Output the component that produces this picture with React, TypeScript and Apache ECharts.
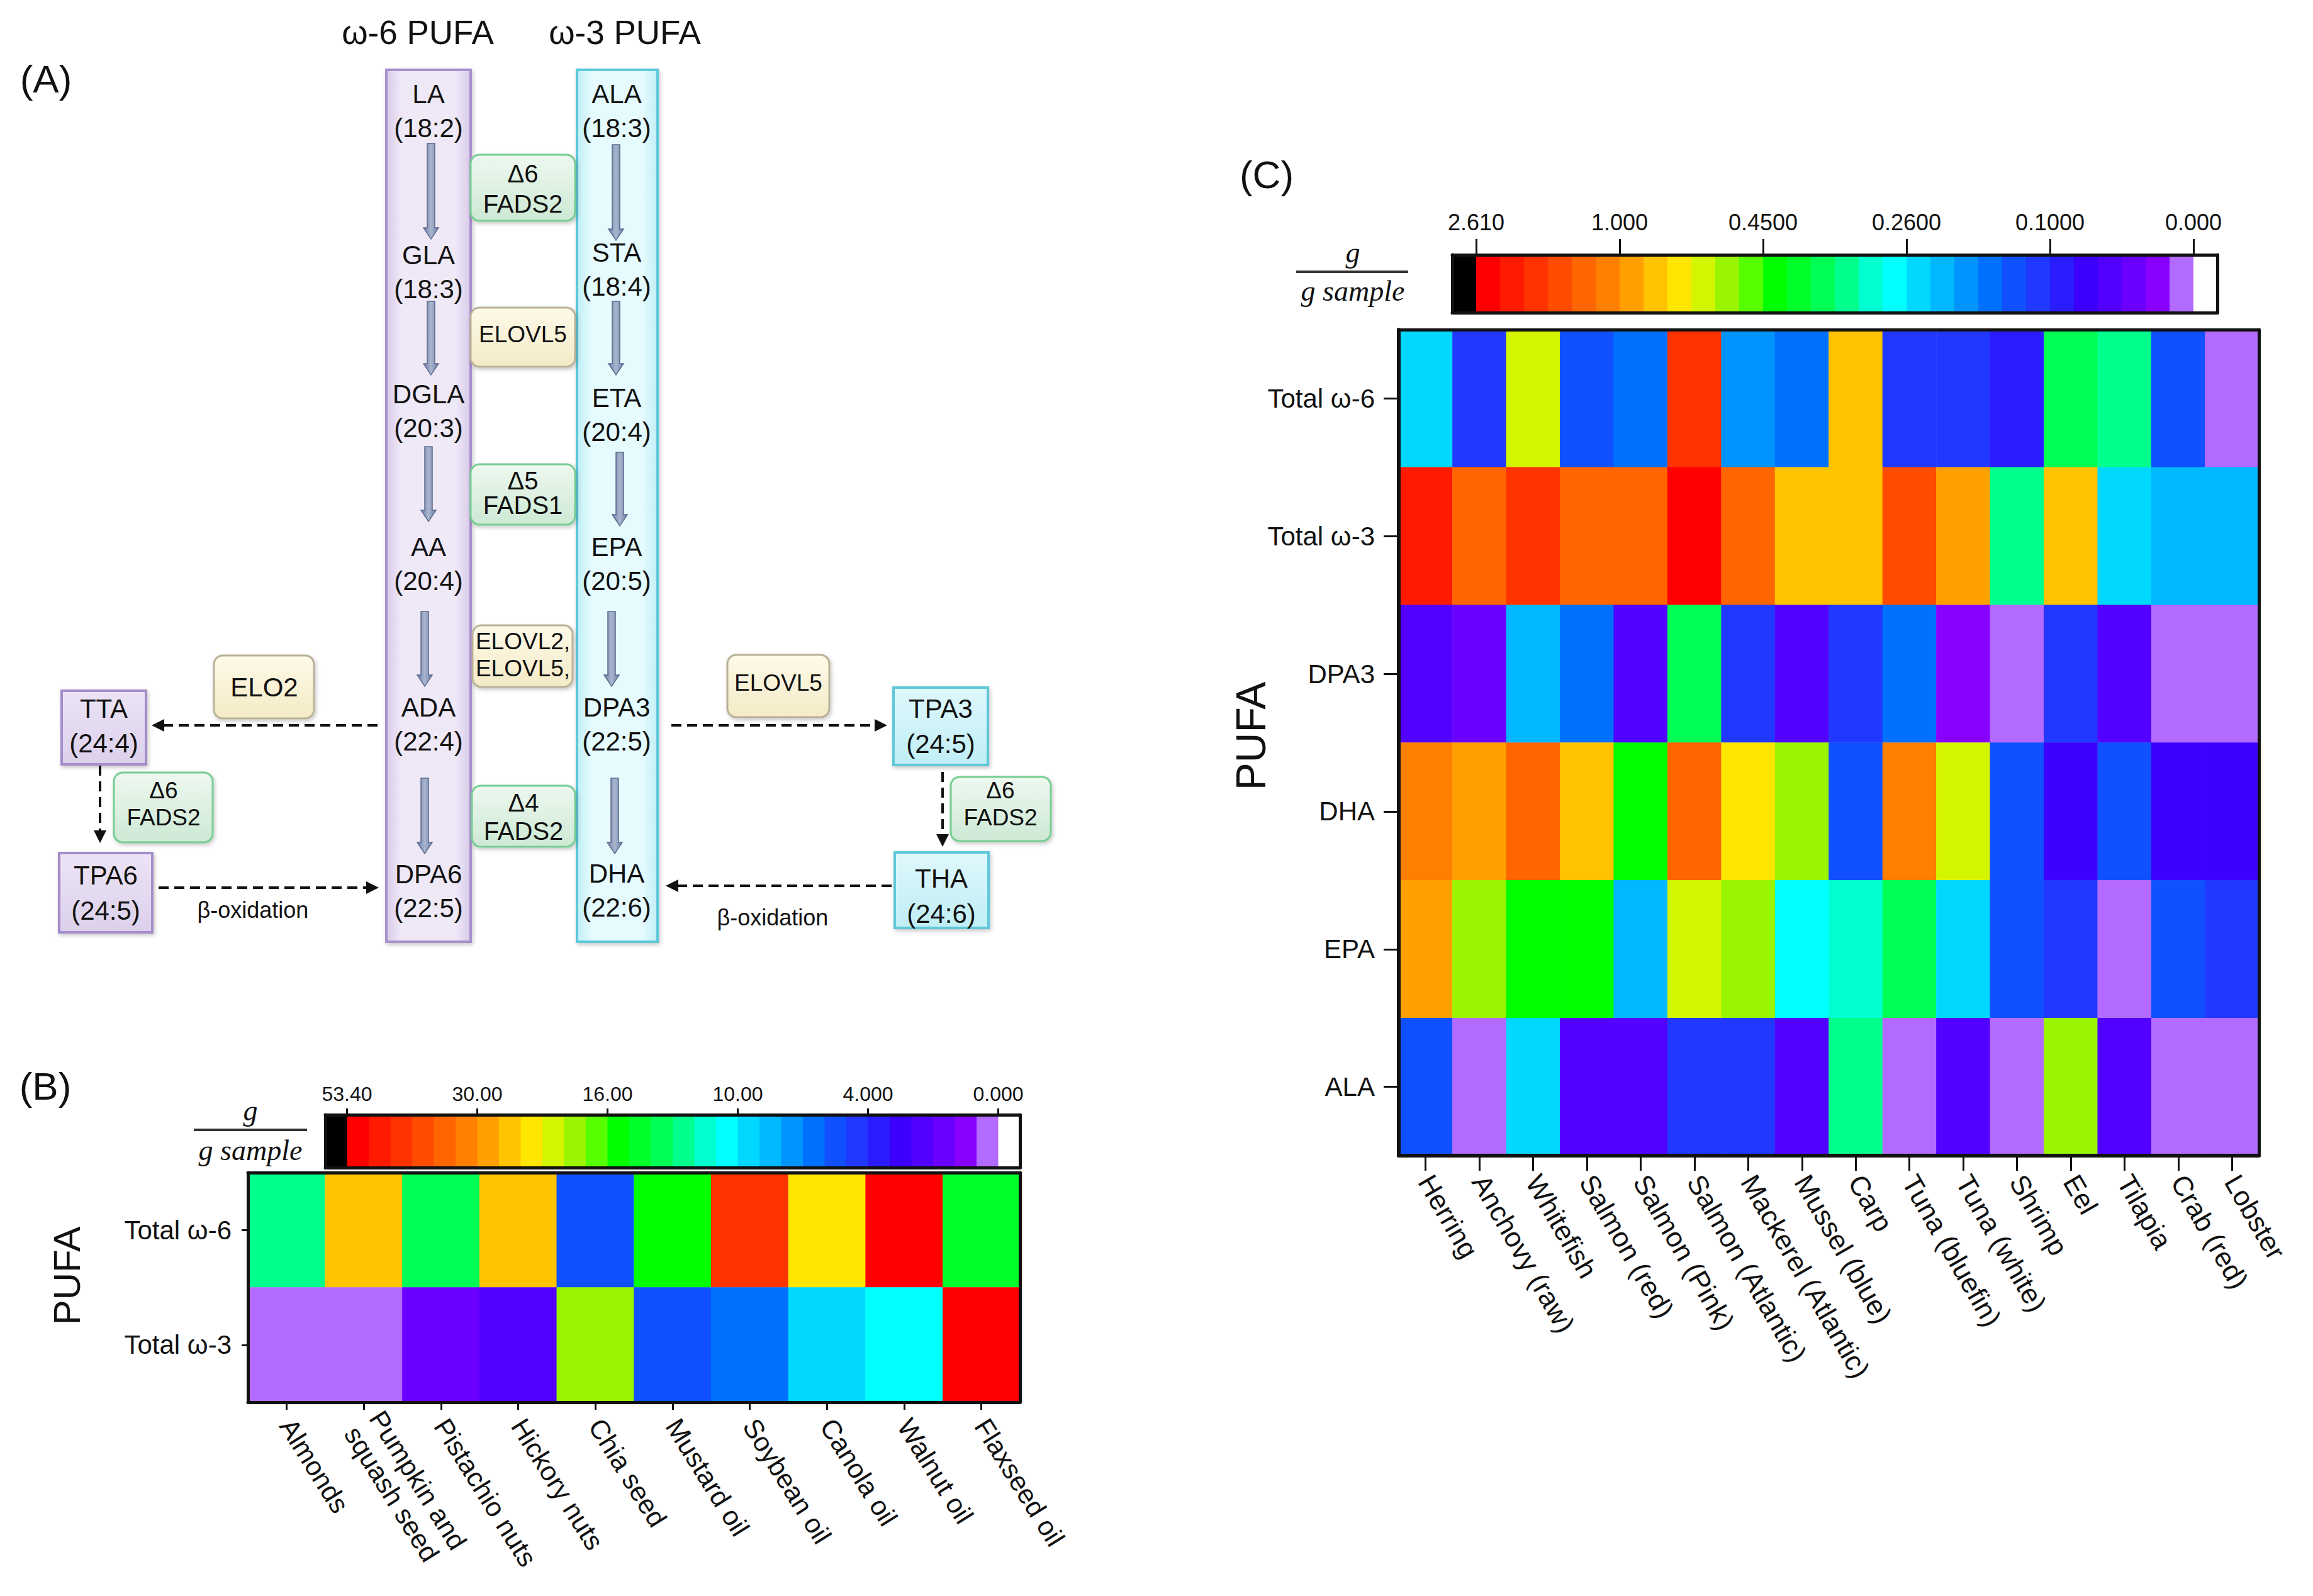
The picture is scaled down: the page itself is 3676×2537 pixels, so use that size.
import React, { useEffect, useRef } from 'react';
import * as echarts from 'echarts';

const W = 3676;
const H = 2537;
const SANS = '"Liberation Sans", Arial, Helvetica, sans-serif';
const SERIF = '"Liberation Serif", "Times New Roman", serif';

// 30-step colour scale (highest -> lowest) and out-of-range ends
const PALETTE = ['#ff0000', '#ff1a00', '#ff3300', '#ff4c00', '#ff6600', '#ff8000', '#ffa000', '#ffc300', '#ffe600', '#d4f500',
  '#99f500', '#55ff00', '#00ff00', '#00ff2a', '#00ff55', '#00ff8c', '#00ffd0', '#00ffff', '#00d8ff', '#00b8ff',
  '#0094ff', '#0070ff', '#1050ff', '#2038ff', '#2a1cff', '#3c00ff', '#5200ff', '#6a00ff', '#8800ff', '#b36bff'];
const OVER_COLOR = '#000000';
const ZERO_COLOR = '#ffffff';

// colour-bar tick values and labels
const SCALE_B_TICKS = [53.4, 30, 16, 10, 4, 0];
const SCALE_B_LABELS = ['53.40', '30.00', '16.00', '10.00', '4.000', '0.000'];
const SCALE_C_TICKS = [2.61, 1, 0.45, 0.26, 0.1, 0];
const SCALE_C_LABELS = ['2.610', '1.000', '0.4500', '0.2600', '0.1000', '0.000'];

// (B) plant sources, g / g sample
const PLANT_FOODS = ['Almonds', 'Pumpkin and\nsquash seed', 'Pistachio nuts', 'Hickory nuts', 'Chia seed', 'Mustard oil', 'Soybean oil', 'Canola oil', 'Walnut oil', 'Flaxseed oil'];
const PLANT_ROWS = ['Total ω-6', 'Total ω-3'];
const PLANT_OMEGA6 = [12.4, 26.6, 13.6, 26.2, 5.8, 15.3, 43.6, 24.1, 51.2, 14.3];
const PLANT_OMEGA3 = [0.006, 0.12, 1.6, 2.2, 19.3, 5.9, 6.8, 9.1, 10.4, 53.3];

// (C) seafood sources, g / g sample
const SEAFOODS = ['Herring', 'Anchovy (raw)', 'Whitefish', 'Salmon (red)', 'Salmon (Pink)', 'Salmon (Atlantic)', 'Mackerel (Atlantic)', 'Mussel (blue)', 'Carp', 'Tuna (bluefin)', 'Tuna (white)', 'Shrimp', 'Eel', 'Tilapia', 'Crab (red)', 'Lobster'];
const SEAFOOD_ROWS = ['Total ω-6', 'Total ω-3', 'DPA3', 'DHA', 'EPA', 'ALA'];
const SEA_OMEGA6 = [0.25, 0.114, 0.68, 0.142, 0.166, 1.96, 0.194, 0.168, 0.87, 0.112, 0.116, 0.091, 0.372, 0.338, 0.145, 0.009];
const SEA_OMEGA3 = [2.2, 1.41, 1.95, 1.39, 1.38, 2.52, 1.44, 0.86, 0.88, 1.68, 0.95, 0.335, 0.84, 0.248, 0.22, 0.215];
const SEA_DPA3 = [0.058, 0.043, 0.22, 0.166, 0.056, 0.37, 0.112, 0.06, 0.114, 0.168, 0.026, 0.005, 0.113, 0.057, 0.004, 0.003];
const SEA_DHA = [1.14, 0.95, 1.42, 0.87, 0.435, 1.45, 0.78, 0.59, 0.14, 1.12, 0.69, 0.135, 0.074, 0.142, 0.076, 0.072];
const SEA_EPA = [0.96, 0.6, 0.435, 0.44, 0.215, 0.68, 0.59, 0.275, 0.305, 0.37, 0.245, 0.135, 0.11, 0.006, 0.14, 0.108];
const SEA_ALA = [0.138, 0.012, 0.25, 0.06, 0.058, 0.107, 0.112, 0.062, 0.34, 0.008, 0.055, 0.01, 0.6, 0.057, 0.009, 0.007];

// ---------- helpers ----------
function boundaries(ticks: number[]) {
  const b: number[] = [];
  for (let p = 0; p <= 30; p++) {
    const i = Math.min(Math.floor(p / 6), ticks.length - 2);
    const f = (p - i * 6) / 6;
    b.push(ticks[i] + (ticks[i + 1] - ticks[i]) * f);
  }
  return b;
}
function buildPieces(ticks: number[]) {
  const b = boundaries(ticks);
  const pieces: any[] = [{ gt: b[0], color: OVER_COLOR }];
  for (let k = 0; k < 30; k++) pieces.push({ gt: b[k + 1], lte: b[k], color: PALETTE[k] });
  pieces.push({ lte: 0, color: ZERO_COLOR });
  return pieces;
}
function heatData(rows: number[][]) {
  const d: number[][] = [];
  rows.forEach((vals, r) => vals.forEach((v, c) => d.push([c, r, v])));
  return d;
}
const CB_COLORS = [OVER_COLOR, ...PALETTE, ZERO_COLOR];
const CB_TICK_POS = [1, 7, 13, 19, 25, 31];

const LINE = (w: number) => ({ show: true, onZero: false, lineStyle: { color: '#111', width: w } });
const NONE = { show: false };

function frameX(grid: number, pos: string, type: string, data?: string[]) {
  const a: any = { type, gridIndex: grid, position: pos, z: 6, axisLine: LINE(5), axisTick: NONE, axisLabel: NONE, splitLine: NONE };
  if (type === 'category') a.data = data; else { a.min = 0; a.max = 32; }
  return a;
}
function frameY(grid: number, pos: string, type: string, data?: string[]) {
  const a: any = { type, gridIndex: grid, position: pos, z: 6, axisLine: LINE(5), axisTick: NONE, axisLabel: NONE, splitLine: NONE };
  if (type === 'category') { a.data = data; a.inverse = true; } else { a.min = 0; a.max = 1; }
  return a;
}
function colorbarTop(grid: number, labels: string[], fontSize: number, tickLen: number, margin: number) {
  return {
    type: 'value', gridIndex: grid, position: 'top', min: 0, max: 32, z: 6,
    axisLine: LINE(5),
    axisTick: { show: true, length: tickLen, customValues: CB_TICK_POS, lineStyle: { color: '#111', width: 3 } },
    axisLabel: {
      show: true, customValues: CB_TICK_POS, margin, fontSize, fontFamily: SANS, color: '#111',
      formatter: (v: number) => labels[Math.round((v - 1) / 6)],
    },
    splitLine: NONE,
  };
}
function colorbarSeries(axisIndex: number) {
  return {
    type: 'custom', xAxisIndex: axisIndex, yAxisIndex: axisIndex, silent: true,
    data: CB_COLORS.map((_, i) => [i, 0]),
    renderItem: (params: any, api: any) => {
      const i = api.value(0);
      const p0 = api.coord([i, 0]);
      const p1 = api.coord([i + 1, 1]);
      return { type: 'rect', shape: { x: p0[0], y: p1[1], width: p1[0] - p0[0] + 0.6, height: p0[1] - p1[1] }, style: { fill: CB_COLORS[params.dataIndex] } };
    },
  };
}

// ---------- panel A diagram ----------
const OM6_FILL = () => new echarts.graphic.LinearGradient(0, 0, 1, 0, [
  { offset: 0, color: '#d8cbe9' }, { offset: 0.18, color: '#efe9f7' }, { offset: 0.82, color: '#efe9f7' }, { offset: 1, color: '#d8cbe9' }]);
const OM3_FILL = () => new echarts.graphic.LinearGradient(0, 0, 1, 0, [
  { offset: 0, color: '#bfeff6' }, { offset: 0.18, color: '#e5fbfe' }, { offset: 0.82, color: '#e5fbfe' }, { offset: 1, color: '#bfeff6' }]);
const GREEN_FILL = () => new echarts.graphic.LinearGradient(0, 0, 0, 1, [
  { offset: 0, color: '#eef8f0' }, { offset: 1, color: '#cde9d4' }]);
const YELLOW_FILL = () => new echarts.graphic.LinearGradient(0, 0, 0, 1, [
  { offset: 0, color: '#fefae9' }, { offset: 1, color: '#f4eac6' }]);
const PURPLE_BOX = () => new echarts.graphic.LinearGradient(0, 0, 0, 1, [
  { offset: 0, color: '#ece4f5' }, { offset: 1, color: '#dcd0ec' }]);
const CYAN_BOX = () => new echarts.graphic.LinearGradient(0, 0, 0, 1, [
  { offset: 0, color: '#dff8fc' }, { offset: 1, color: '#bfeef5' }]);
const ARROW_FILL = () => new echarts.graphic.LinearGradient(0, 0, 1, 0, [
  { offset: 0, color: '#6c7ca0' }, { offset: 0.5, color: '#aab6d0' }, { offset: 1, color: '#6c7ca0' }]);

function rectEl(x: number, y: number, w: number, h: number, fill: any, stroke: string, r = 0, lw = 3, shadow = true) {
  return {
    type: 'rect', silent: true, shape: { x, y, width: w, height: h, r },
    style: Object.assign({ fill, stroke, lineWidth: lw }, shadow ? { shadowBlur: 6, shadowColor: 'rgba(0,0,0,0.22)', shadowOffsetX: 2, shadowOffsetY: 3 } : {}),
  };
}
function textEl(x: number, y: number, text: string, size: number, o: any = {}) {
  return {
    type: 'text', silent: true, x, y, rotation: o.rotation || 0,
    style: { text, fontSize: size, fontFamily: o.family || SANS, fontStyle: o.italic ? 'italic' : 'normal', fill: o.color || '#111', align: o.align || 'center', verticalAlign: 'middle' },
  };
}
function solidArrow(x: number, y1: number, y2: number) {
  const hw = 6, hh = 12, hl = 18;
  return {
    type: 'polygon', silent: true,
    shape: { points: [[x - hw, y1], [x + hw, y1], [x + hw, y2 - hl], [x + hh, y2 - hl], [x, y2], [x - hh, y2 - hl], [x - hw, y2 - hl]] },
    style: { fill: ARROW_FILL(), stroke: '#5b6a8e', lineWidth: 1.5 },
  };
}
function dashedArrow(x1: number, y1: number, x2: number, y2: number) {
  const len = Math.hypot(x2 - x1, y2 - y1);
  const ux = (x2 - x1) / len, uy = (y2 - y1) / len;
  const hl = 20, hw = 10;
  const bx = x2 - ux * hl, by = y2 - uy * hl;
  return [
    { type: 'line', silent: true, shape: { x1, y1, x2: bx, y2: by }, style: { stroke: '#111', lineWidth: 4, lineDash: [16, 9] } },
    { type: 'polygon', silent: true, shape: { points: [[x2, y2], [bx - uy * hw, by + ux * hw], [bx + uy * hw, by - ux * hw]] }, style: { fill: '#111' } },
  ];
}

function panelA(): any[] {
  const els: any[] = [];
  const F = 42;
  els.push(textEl(73, 125, '(A)', 62));
  els.push(textEl(664, 51, 'ω-6 PUFA', 53));
  els.push(textEl(993, 51, 'ω-3 PUFA', 53));
  // pathway columns
  els.push(rectEl(614, 111, 134, 1386, OM6_FILL(), '#a990cd', 0, 4));
  els.push(rectEl(917, 111, 128, 1386, OM3_FILL(), '#5cc9da', 0, 4));
  const om6 = [['LA', '(18:2)', 149], ['GLA', '(18:3)', 405], ['DGLA', '(20:3)', 626], ['AA', '(20:4)', 869], ['ADA', '(22:4)', 1124], ['DPA6', '(22:5)', 1389]];
  const om3 = [['ALA', '(18:3)', 149], ['STA', '(18:4)', 401], ['ETA', '(20:4)', 632], ['EPA', '(20:5)', 869], ['DPA3', '(22:5)', 1124], ['DHA', '(22:6)', 1388]];
  om6.forEach(([a, b, y]) => { els.push(textEl(681, y as number, a as string, F)); els.push(textEl(681, (y as number) + 54, b as string, F)); });
  om3.forEach(([a, b, y]) => { els.push(textEl(980, y as number, a as string, F)); els.push(textEl(980, (y as number) + 54, b as string, F)); });
  // solid arrows
  [[685, 228, 380], [685, 479, 596], [681, 710, 829], [675, 972, 1091], [675, 1237, 1357]].forEach(([x, a, b]) => els.push(solidArrow(x, a, b)));
  [[979, 230, 382], [979, 479, 596], [985, 719, 836], [972, 972, 1091], [977, 1237, 1357]].forEach(([x, a, b]) => els.push(solidArrow(x, a, b)));
  // enzyme boxes between columns
  const G = '#77cd93', Y = '#b9b198';
  els.push(rectEl(748, 246, 166, 105, GREEN_FILL(), G, 14));
  els.push(textEl(831, 276, 'Δ6', 40)); els.push(textEl(831, 324, 'FADS2', 40));
  els.push(rectEl(748, 489, 166, 94, YELLOW_FILL(), Y, 14));
  els.push(textEl(831, 531, 'ELOVL5', 37));
  els.push(rectEl(748, 738, 166, 96, GREEN_FILL(), G, 14));
  els.push(textEl(831, 764, 'Δ5', 40)); els.push(textEl(831, 803, 'FADS1', 40));
  els.push(rectEl(751, 994, 159, 98, YELLOW_FILL(), Y, 14));
  els.push(textEl(831, 1019, 'ELOVL2,', 37)); els.push(textEl(831, 1062, 'ELOVL5,', 37));
  els.push(rectEl(750, 1249, 164, 97, GREEN_FILL(), G, 14));
  els.push(textEl(832, 1276, 'Δ4', 40)); els.push(textEl(832, 1321, 'FADS2', 40));
  // left branch
  els.push(rectEl(340, 1042, 159, 100, YELLOW_FILL(), Y, 14));
  els.push(textEl(420, 1092, 'ELO2', 42));
  els.push(rectEl(98, 1098, 134, 117, PURPLE_BOX(), '#a58dcb', 0, 4));
  els.push(textEl(165, 1126, 'TTA', F)); els.push(textEl(165, 1181, '(24:4)', F));
  els.push(rectEl(181, 1228, 157, 111, GREEN_FILL(), G, 14));
  els.push(textEl(260, 1256, 'Δ6', 37)); els.push(textEl(260, 1299, 'FADS2', 37));
  els.push(rectEl(94, 1356, 148, 126, PURPLE_BOX(), '#a58dcb', 0, 4));
  els.push(textEl(168, 1391, 'TPA6', F)); els.push(textEl(168, 1447, '(24:5)', F));
  els.push(...dashedArrow(600, 1153, 241, 1153));
  els.push(...dashedArrow(159, 1217, 159, 1340));
  els.push(...dashedArrow(252, 1411, 602, 1411));
  els.push(textEl(402, 1446, 'β-oxidation', 36));
  // right branch
  els.push(rectEl(1156, 1041, 162, 99, YELLOW_FILL(), Y, 14));
  els.push(textEl(1237, 1085, 'ELOVL5', 37));
  els.push(rectEl(1420, 1093, 150, 123, CYAN_BOX(), '#5ec8d8', 0, 4));
  els.push(textEl(1495, 1126, 'TPA3', F)); els.push(textEl(1495, 1182, '(24:5)', F));
  els.push(rectEl(1511, 1235, 159, 102, GREEN_FILL(), G, 14));
  els.push(textEl(1590, 1256, 'Δ6', 37)); els.push(textEl(1590, 1299, 'FADS2', 37));
  els.push(rectEl(1422, 1355, 149, 120, CYAN_BOX(), '#5ec8d8', 0, 4));
  els.push(textEl(1496, 1396, 'THA', F)); els.push(textEl(1496, 1452, '(24:6)', F));
  els.push(...dashedArrow(1067, 1153, 1410, 1153));
  els.push(...dashedArrow(1498, 1227, 1498, 1346));
  els.push(...dashedArrow(1417, 1408, 1058, 1408));
  els.push(textEl(1228, 1458, 'β-oxidation', 36));
  return els;
}

function otherGraphics(): any[] {
  const els: any[] = [];
  els.push(textEl(72, 1726, '(B)', 62));
  els.push(textEl(2013, 277, '(C)', 62));
  // unit fractions
  els.push(textEl(398, 1765, 'g', 46, { family: SERIF, italic: true }));
  els.push({ type: 'line', silent: true, shape: { x1: 308, y1: 1796, x2: 488, y2: 1796 }, style: { stroke: '#333', lineWidth: 4 } });
  els.push(textEl(398, 1828, 'g sample', 46, { family: SERIF, italic: true }));
  els.push(textEl(2150, 401, 'g', 46, { family: SERIF, italic: true }));
  els.push({ type: 'line', silent: true, shape: { x1: 2060, y1: 432, x2: 2238, y2: 432 }, style: { stroke: '#333', lineWidth: 4 } });
  els.push(textEl(2150, 462, 'g sample', 46, { family: SERIF, italic: true }));
  // y-axis titles
  els.push(textEl(106, 2028, 'PUFA', 60, { rotation: Math.PI / 2 }));
  els.push(textEl(1988, 1170, 'PUFA', 66, { rotation: Math.PI / 2 }));
  return els;
}

function buildOption() {
  const labelB = { interval: 0, rotate: -58, margin: 30, fontSize: 43, lineHeight: 47, fontFamily: SANS, color: '#111' };
  const labelC = { interval: 0, rotate: -60, margin: 34, fontSize: 44, fontFamily: SANS, color: '#111' };
  return {
    animation: false,
    backgroundColor: '#ffffff',
    grid: [
      { left: 394, top: 1864, width: 1227, height: 365 },
      { left: 517, top: 1772, width: 1104, height: 84 },
      { left: 2308, top: 405, width: 1216, height: 92 },
      { left: 2223, top: 524, width: 1367, height: 1313 },
    ],
    xAxis: [
      { type: 'category', gridIndex: 0, data: PLANT_FOODS, position: 'bottom', z: 6, axisLine: LINE(5),
        axisTick: { show: true, length: 12, alignWithLabel: true, interval: 0, lineStyle: { color: '#111', width: 3 } },
        axisLabel: labelB, splitLine: NONE },
      frameX(0, 'top', 'category', PLANT_FOODS),
      colorbarTop(1, SCALE_B_LABELS, 32, 10, 17),
      frameX(1, 'bottom', 'value'),
      colorbarTop(2, SCALE_C_LABELS, 36, 25, 34),
      frameX(2, 'bottom', 'value'),
      { type: 'category', gridIndex: 3, data: SEAFOODS, position: 'bottom', z: 6, axisLine: LINE(6),
        axisTick: { show: true, length: 24, alignWithLabel: true, interval: 0, lineStyle: { color: '#111', width: 3 } },
        axisLabel: labelC, splitLine: NONE },
      frameX(3, 'top', 'category', SEAFOODS),
    ],
    yAxis: [
      { type: 'category', gridIndex: 0, data: PLANT_ROWS, inverse: true, position: 'left', z: 6, axisLine: LINE(5),
        axisTick: { show: true, length: 10, alignWithLabel: true, lineStyle: { color: '#111', width: 3 } },
        axisLabel: { margin: 26, fontSize: 42, fontFamily: SANS, color: '#111' }, splitLine: NONE },
      frameY(0, 'right', 'category', PLANT_ROWS),
      frameY(1, 'left', 'value'),
      frameY(1, 'right', 'value'),
      frameY(2, 'left', 'value'),
      frameY(2, 'right', 'value'),
      { type: 'category', gridIndex: 3, data: SEAFOOD_ROWS, inverse: true, position: 'left', z: 6, axisLine: LINE(6),
        axisTick: { show: true, length: 24, alignWithLabel: true, lineStyle: { color: '#111', width: 3 } },
        axisLabel: { margin: 38, fontSize: 42, fontFamily: SANS, color: '#111' }, splitLine: NONE },
      frameY(3, 'right', 'category', SEAFOOD_ROWS),
    ],
    visualMap: [
      { type: 'piecewise', show: false, seriesIndex: 0, dimension: 2, pieces: buildPieces(SCALE_B_TICKS) },
      { type: 'piecewise', show: false, seriesIndex: 3, dimension: 2, pieces: buildPieces(SCALE_C_TICKS) },
    ],
    series: [
      { type: 'heatmap', xAxisIndex: 0, yAxisIndex: 0, data: heatData([PLANT_OMEGA6, PLANT_OMEGA3]), itemStyle: { borderWidth: 0 }, emphasis: { disabled: true } },
      colorbarSeries(2),
      colorbarSeries(4),
      { type: 'heatmap', xAxisIndex: 6, yAxisIndex: 6, data: heatData([SEA_OMEGA6, SEA_OMEGA3, SEA_DPA3, SEA_DHA, SEA_EPA, SEA_ALA]), itemStyle: { borderWidth: 0 }, emphasis: { disabled: true } },
    ],
    graphic: { elements: [...panelA(), ...otherGraphics()] },
  };
}

export default function App() {
  const ref = useRef<HTMLDivElement>(null);
  useEffect(() => {
    if (!ref.current) return;
    const chart = echarts.init(ref.current, null, { renderer: 'svg' });
    chart.setOption(buildOption() as any);
    return () => chart.dispose();
  }, []);
  return <div ref={ref} style={{ position: 'absolute', left: 0, top: 0, width: W, height: H, background: '#fff' }} />;
}
